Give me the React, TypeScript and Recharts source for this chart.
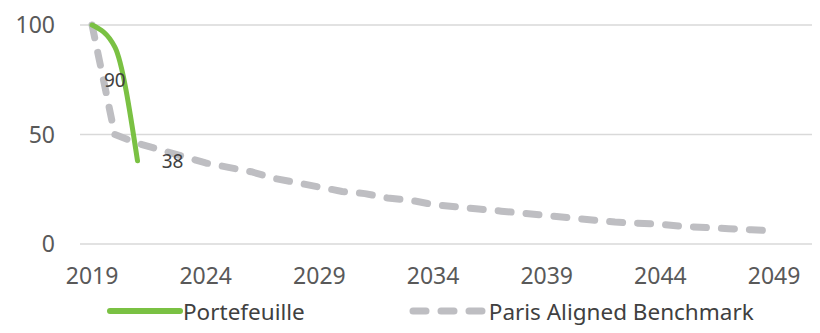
import React from "react";
import { LineChart, Line, XAxis, YAxis, CartesianGrid, Legend, LabelList } from "recharts";

const years = [
  2019, 2020, 2021, 2022, 2023, 2024, 2025, 2026, 2027, 2028, 2029, 2030, 2031, 2032, 2033, 2034,
  2035, 2036, 2037, 2038, 2039, 2040, 2041, 2042, 2043, 2044, 2045, 2046, 2047, 2048, 2049,
];
const portefeuille = [100, 90, 38];
const benchmark = [
  100, 50, 46, 43, 40, 37, 35, 33, 30, 28, 26, 24, 23, 21, 20, 18, 17, 16, 15, 14, 13, 12, 11, 10,
  9.5, 9, 8, 7.5, 7, 6.5, 6,
];
const xTicks = [2019, 2024, 2029, 2034, 2039, 2044, 2049];
const yTicks = [0, 50, 100];

const data = years.map((year, i) => ({
  year,
  portefeuille: i < portefeuille.length ? portefeuille[i] : null,
  benchmark: benchmark[i],
}));

const FONT = "'Noto Sans', sans-serif";
const GREEN = "#7ac143";
const GREY = "#bebec2";

const PointLabel = (props: any) => {
  const { x, y, value, index } = props;
  if (index === 0) return null;
  const dx = index === 1 ? 0 : 35;
  const dy = index === 1 ? 33 : 0;
  return (
    <text x={x + dx} y={y + dy} textAnchor="middle" dominantBaseline="central" fill="#404040" fontSize={19} fontFamily={FONT}>
      {value}
    </text>
  );
};

const LegendContent = () => (
  <div style={{ display: "flex", justifyContent: "flex-start", fontFamily: FONT, fontSize: 22.5, color: "#404040", height: 44, alignItems: "center" }}>
    <svg width={76} height={10} style={{ marginLeft: 99 }}>
      <line x1={3} y1={5} x2={73} y2={5} stroke={GREEN} strokeWidth={6} strokeLinecap="round" />
    </svg>
    <span>Portefeuille</span>
    <svg width={80} height={10} style={{ marginLeft: 104 }}>
      <line x1={4} y1={5} x2={76} y2={5} stroke={GREY} strokeWidth={7} strokeLinecap="round" strokeDasharray="13 15" />
    </svg>
    <span>Paris Aligned Benchmark</span>
  </div>
);

export default function App() {
  return (
    <LineChart width={812} height={325} data={data} margin={{ top: 17, right: 0, left: 0, bottom: 0 }}>
      <CartesianGrid vertical={false} stroke="#d9d9d9" strokeWidth={1.5} />
      <XAxis
        dataKey="year"
        type="number"
        domain={[2018.47, 2051.02]}
        ticks={xTicks}
        axisLine={false}
        tickLine={false}
        tickSize={0}
        tickMargin={24}
        height={45}
        tick={{ fill: "#595959", fontSize: 23, fontFamily: FONT }}
      />
      <YAxis
        domain={[0, 100]}
        ticks={yTicks}
        axisLine={false}
        tickLine={false}
        tickSize={0}
        tickMargin={25}
        width={72}
        tick={{ fill: "#595959", fontSize: 23, fontFamily: FONT }}
      />
      <Legend verticalAlign="bottom" height={44} content={<LegendContent />} />
      <Line
        dataKey="benchmark"
        name="Paris Aligned Benchmark"
        type="linear"
        stroke={GREY}
        strokeWidth={7}
        strokeDasharray="13 15"
        strokeLinecap="round"
        strokeLinejoin="round"
        dot={false}
        isAnimationActive={false}
      />
      <Line
        dataKey="portefeuille"
        name="Portefeuille"
        type="monotone"
        stroke={GREEN}
        strokeWidth={5}
        strokeLinecap="round"
        dot={false}
        connectNulls={false}
        isAnimationActive={false}
      >
        <LabelList dataKey="portefeuille" content={<PointLabel />} />
      </Line>
    </LineChart>
  );
}
